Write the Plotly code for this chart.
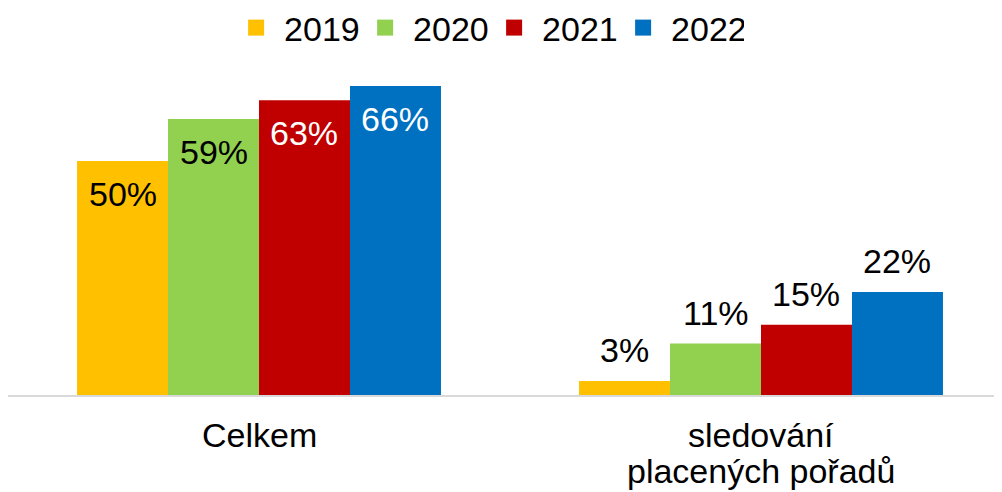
import plotly.graph_objects as go

# ---- data ----
categories = ["Celkem", "sledování<br>placených pořadů"]
years = ["2019", "2020", "2021", "2022"]
values_2019 = [50, 3]
values_2020 = [59, 11]
values_2021 = [63, 15]
values_2022 = [66, 22]
series_values = [values_2019, values_2020, values_2021, values_2022]

# ---- styles ----
colors = ["#FFC000", "#92D050", "#C00000", "#0070C0"]
inside_text_colors = ["#000000", "#000000", "#FFFFFF", "#FFFFFF"]
label_inside = [True, False]  # per category: label inside bar top or above bar
FONT = "Liberation Sans, Arial, sans-serif"
FS = 34

W, H = 994, 484          # page body has an 8px margin
PX_PER_UNIT = 502        # px per category on x
PLOT_H = 334             # plot-area height in px
PX_PER_PCT = 4.68

group_width = 0.725
bw = group_width / len(years)
xs = list(range(len(categories)))

fig = go.Figure()
annotations = []
for j, (yr, vals, col) in enumerate(zip(years, series_values, colors)):
    off = -group_width / 2 + j * bw
    fig.add_trace(go.Bar(
        x=xs, y=vals, width=bw, offset=off,
        marker=dict(color=col, line=dict(width=0)),
        name=yr, showlegend=False, hoverinfo="skip",
    ))
    # legend proxy with larger square symbol
    fig.add_trace(go.Scatter(
        x=[None], y=[None], mode="markers", name=yr,
        marker=dict(symbol="square", size=16, color=col),
        showlegend=True,
    ))
    for i, v in enumerate(vals):
        inside = label_inside[i]
        annotations.append(dict(
            x=i + off + bw / 2, y=v, xref="x", yref="y",
            text=f"{v}%", showarrow=False,
            yanchor="middle", xanchor="center",
            yshift=-33 if inside else 31,
            font=dict(family=FONT, size=FS,
                      color=inside_text_colors[j] if inside else "#000000"),
        ))

# category labels (one annotation per text line, for tighter line spacing)
for i, cat in enumerate(categories):
    for k, line in enumerate(cat.split("<br>")):
        annotations.append(dict(
            x=i, y=0, xref="x", yref="y", text=line, showarrow=False,
            yanchor="middle", xanchor="center",
            yshift=-(39.5 + k * 36.7),
            font=dict(family=FONT, size=FS, color="#000000"),
        ))

fig.update_layout(
    width=W, height=H, autosize=False,
    margin=dict(l=0, r=0, t=53, b=H - 53 - PLOT_H, pad=0),
    paper_bgcolor="white", plot_bgcolor="white",
    barmode="overlay",
    font=dict(family=FONT, size=FS, color="#000000"),
    annotations=annotations,
    legend=dict(
        orientation="h", xref="container", yref="container",
        x=0.481, xanchor="center", y=1 - 20 / H, yanchor="middle",
        font=dict(family=FONT, size=FS, color="#000000"),
        itemwidth=46, entrywidth=68, bgcolor="rgba(0,0,0,0)",
        traceorder="normal",
    ),
    xaxis=dict(
        range=[-0.5, -0.5 + W / PX_PER_UNIT],
        tickmode="array", tickvals=xs, showticklabels=False,
        showgrid=False, zeroline=False, automargin=False,
        showline=True, linecolor="#D9D9D9", linewidth=2,
        ticks="", fixedrange=True,
    ),
    yaxis=dict(
        range=[0, PLOT_H / PX_PER_PCT], visible=False, showgrid=False,
        zeroline=False, fixedrange=True, automargin=False,
    ),
)

fig.write_html("out.html")
